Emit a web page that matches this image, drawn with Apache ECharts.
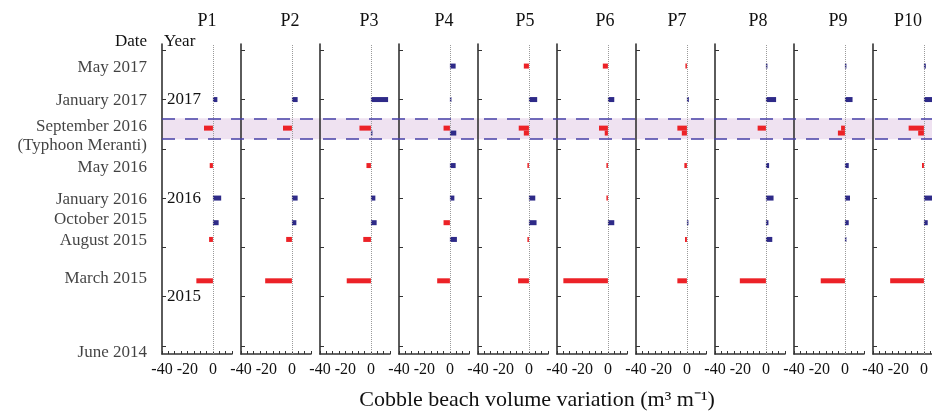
<!DOCTYPE html>
<html>
<head>
<meta charset="utf-8">
<script src="https://cdn.jsdelivr.net/npm/echarts@6/dist/echarts.min.js"></script>
<style>html,body{margin:0;padding:0;background:#fff;overflow:hidden}#c{width:960px;height:412px}</style>
</head>
<body>
<div id="c"></div>
<script>
// ---- data ----
const panelNames = ['P1','P2','P3','P4','P5','P6','P7','P8','P9','P10'];
// survey times (decimal years): May17, Jan17, Sep16 (a), Sep16 (b), May16, Jan16, Oct15, Aug15, Mar15
const dates = [2017.34, 2017.0, 2016.71, 2016.66, 2016.33, 2016.0, 2015.75, 2015.58, 2015.16];
const P1  = [null, 3.5, -7,   null, -2.5, 6.5,  4.5, -3,   -13];
const P2  = [null, 4.5, -7,   null, null, 4.5,  3.5, -4.5, -21];
const P3  = [null, 13.5,-9,   1,    -3.5, 3.5,  4.5, -6,   -19];
const P4  = [4.5,  0.5, -5,   5,    4.5,  3.5,  -5,  5.5,  -10];
const P5  = [-4,   6.5, -8,   -4,   -1,   5,    6,   -0.8, -8.5];
const P6  = [-4,   5,   -7,   -2.5, -1,   -0.5, 5,   null, -35];
const P7  = [-0.8, 1.5, -7.5, -4,   -2,   null, 0.8, -1.5, -7.5];
const P8  = [0.7,  8,   -6.5, null, 2.5,  6,    2,   5,    -20.5];
const P9  = [0.3,  6,   -3,   -5.5, 3,    4,    3,   1,    -19];
const P10 = [1.5,  7,   -12,  -4.5, -1.5, 7,    3,   null, -26.5];
const panels = [P1,P2,P3,P4,P5,P6,P7,P8,P9,P10];

const dateLabels = ['May 2017','January 2017','September 2016\n(Typhoon Meranti)','May 2016','January 2016','October 2015','August 2015','March 2015','June 2014'];
const dateLabelPos = [2017.33, 2016.99, 2016.63, 2016.31, 2015.99, 2015.78, 2015.57, 2015.18, 2014.43];
const yearLabels = [2015, 2016, 2017];
const yearTicks = [2014.5, 2015, 2015.5, 2016, 2016.5, 2017, 2017.5];
const xTickLabels = [-40, -20, 0];
const typhoonBand = [2016.596, 2016.81];
const yMin = 2014.417, yMax = 2017.564;
const xMin = -40, xMax = 15;

// ---- style ----
const FONT = "'Liberation Serif','Times New Roman',serif";
const RED = '#ec2227', BLUE = '#2e2a88', AX = '#333333', TXT = '#111111';
const GL = 162, GSTEP = 79, GW = 70, GT = 44, GH = 310;
const titleX = [207, 290, 369, 444, 525, 605, 677, 758, 838, 908];

const grids = [], xAxes = [], yAxes = [], series = [];
panels.forEach((vals, i) => {
  grids.push({left: GL + GSTEP * i, top: GT, width: GW, height: GH});
  xAxes.push({
    type: 'value', gridIndex: i, min: xMin, max: xMax, interval: 5, z: 1,
    axisLine: {show: true, onZero: false, lineStyle: {color: AX, width: 1.6}},
    axisTick: {show: true, inside: true, length: 3, lineStyle: {color: AX}},
    splitLine: {show: false},
    axisLabel: {
      color: TXT, fontFamily: FONT, fontSize: 16, margin: 8,
      formatter: v => xTickLabels.indexOf(v) >= 0 ? String(v) : ''
    }
  });
  yAxes.push({
    type: 'value', gridIndex: i, min: yMin, max: yMax, z: 1,
    axisLine: {show: true, onZero: false, lineStyle: {color: AX, width: 1.6}},
    axisTick: {show: true, inside: true, length: 4, customValues: yearTicks, lineStyle: {color: AX}},
    splitLine: {show: false},
    axisLabel: i === 0 ? {
      show: true, inside: true, margin: 5, customValues: yearLabels,
      color: TXT, fontFamily: FONT, fontSize: 17, formatter: v => String(v)
    } : {show: false}
  });
  const data = [];
  vals.forEach((v, k) => { if (v !== null) data.push([v, dates[k]]); });
  series.push({
    type: 'custom', xAxisIndex: i, yAxisIndex: i, z: 2, clip: false,
    encode: {x: 0, y: 1},
    data: data,
    renderItem: function (params, api) {
      const v = api.value(0), t = api.value(1);
      const p0 = api.coord([0, t]), p1 = api.coord([v, t]);
      const h = 5;
      const w = Math.max(Math.abs(p1[0] - p0[0]), 1.5);
      const x = v < 0 ? p0[0] - w : p0[0];
      return {type: 'rect', shape: {x: x, y: p0[1] - h / 2, width: w, height: h},
              style: {fill: v < 0 ? RED : BLUE}};
    },
    markLine: {
      silent: true, symbol: 'none', label: {show: false},
      lineStyle: {type: [1, 1], color: '#9a9a9a', width: 1},
      data: [{xAxis: 0}]
    }
  });
});

// background grid for the typhoon band
const bi = panels.length;
grids.push({left: GL, top: GT, width: 960 - GL, height: GH});
xAxes.push({type: 'value', gridIndex: bi, min: 0, max: 1, show: false});
yAxes.push({type: 'value', gridIndex: bi, min: yMin, max: yMax, show: false});
series.push({
  type: 'line', xAxisIndex: bi, yAxisIndex: bi, z: 0, silent: true,
  data: [[0, yMin]], showSymbol: false, symbol: 'none', lineStyle: {opacity: 0},
  markArea: {silent: true, itemStyle: {color: '#efe2f1'},
    data: [[{yAxis: typhoonBand[0]}, {yAxis: typhoonBand[1]}]]},
  markLine: {silent: true, symbol: 'none', label: {show: false},
    lineStyle: {type: [13, 10], color: '#4740a6', width: 1.5},
    data: [{yAxis: typhoonBand[0]}, {yAxis: typhoonBand[1]}]}
});

// date labels on the left of the first panel
series.push({
  type: 'scatter', xAxisIndex: 0, yAxisIndex: 0, symbolSize: 0, clip: false, silent: true, z: 3,
  data: dateLabels.map((n, k) => ({name: n, value: [xMin, dateLabelPos[k]]})),
  label: {show: true, position: 'left', distance: 15, formatter: '{b}', color: TXT,
          fontFamily: FONT, fontSize: 17, lineHeight: 19, align: 'right'}
});

const graphics = [];
panelNames.forEach((n, i) => {
  graphics.push({type: 'text', x: titleX[i], y: 21,
    style: {text: n, font: '18px ' + FONT, fill: TXT, textAlign: 'center', textVerticalAlign: 'middle'}});
});
graphics.push({type: 'text', x: 147, y: 42,
  style: {text: 'Date', font: '17px ' + FONT, fill: TXT, textAlign: 'right', textVerticalAlign: 'middle'}});
graphics.push({type: 'text', x: 164, y: 42,
  style: {text: 'Year', font: '17px ' + FONT, fill: TXT, textAlign: 'left', textVerticalAlign: 'middle'}});
graphics.push({type: 'text', x: 537, y: 400,
  style: {text: 'Cobble beach volume variation (m³ m⁻¹)', font: '22px ' + FONT, fill: TXT,
          textAlign: 'center', textVerticalAlign: 'middle'}});

const chart = echarts.init(document.getElementById('c'));
chart.setOption({
  animation: false,
  backgroundColor: '#fff',
  grid: grids, xAxis: xAxes, yAxis: yAxes, series: series,
  graphic: graphics
});
</script>
</body>
</html>
